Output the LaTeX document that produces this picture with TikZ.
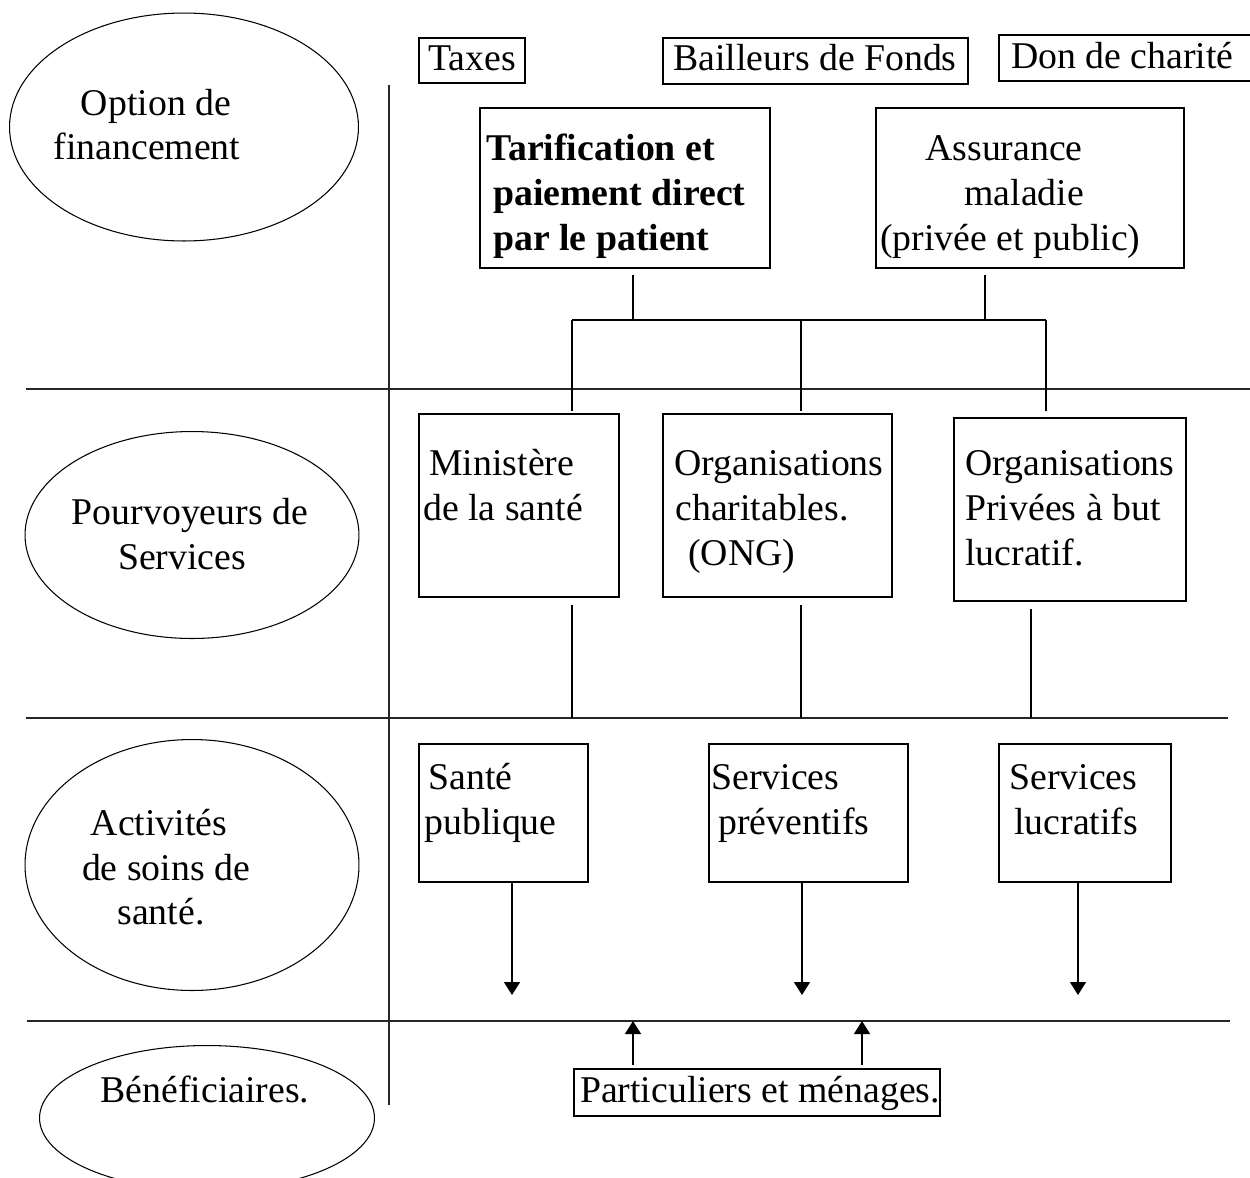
\documentclass[tikz,border=0pt]{standalone}
\usepackage{fontspec}
\setmainfont{Liberation Serif}
\usetikzlibrary{arrows.meta,shapes.geometric}
\newcommand{\dfont}{\fontsize{21.5pt}{25.5pt}\selectfont}
\begin{document}
\begin{tikzpicture}[x=0.02cm,y=-0.02cm,
  box/.style={draw, rectangle, line width=0.9pt, inner sep=0pt},
  oval/.style={draw, ellipse, line width=0.6pt, inner sep=0pt},
  txt/.style={inner sep=0pt, anchor=base west, font=\dfont},
  ctxt/.style={inner sep=0pt, anchor=base, font=\dfont},
  conn/.style={line width=0.8pt},
  arr/.style={line width=0.8pt, -{Triangle[width=0.32cm,length=0.26cm]}},
  divider/.style={line width=0.7pt, black!85}]
\useasboundingbox (0,0) rectangle (1250,1177);
\fill[white] (0,0) rectangle (1250,1177);
\clip (0,0) rectangle (1250,1177);

% ---- dividers
\draw[divider] (389,85) -- (389,1105);
\draw[divider] (26,389) -- (1250,389);
\draw[divider] (26,718) -- (1228,718);
\draw[divider] (27,1021) -- (1230,1021);

% ---- row labels (ellipses)
\node[oval, minimum width=6.98cm, minimum height=4.56cm] (e1) at (184,127) {};
\node[ctxt] (e1a) at (156,115) {Option de};
\node[ctxt] (e1b) at (147,159) {financement};

\node[oval, minimum width=6.68cm, minimum height=4.14cm] (e2) at (192,535) {};
\node[ctxt] (e2a) at (190,524) {Pourvoyeurs de};
\node[ctxt] (e2b) at (182,569) {Services};

\node[oval, minimum width=6.68cm, minimum height=5.02cm] (e3) at (192,865) {};
\node[ctxt] (e3a) at (159,835) {Activités};
\node[ctxt] (e3b) at (166,880) {de soins de};
\node[ctxt] (e3c) at (161,924) {santé.};

\node[oval, minimum width=6.7cm, minimum height=2.9cm] (e4) at (207,1118) {};
\node[ctxt] (e4a) at (205,1102) {Bénéficiaires.};

% ---- funding sources
\node[box, minimum width=2.12cm, minimum height=0.90cm] (taxes) at (472,60.5) {};
\node[ctxt] (taxest) at (472,70) {Taxes};
\node[box, minimum width=6.10cm, minimum height=0.92cm] (bailleurs) at (815.5,61) {};
\node[ctxt] (bailleurst) at (815,70) {Bailleurs de Fonds};
\node[box, minimum width=5.26cm, minimum height=0.92cm] (don) at (1130.5,58) {};
\node[txt] (dont) at (1011,68) {Don de charité};

% ---- financing options
\node[box, minimum width=5.80cm, minimum height=3.20cm] (tarif) at (625,188) {};
\node[txt, font=\dfont\bfseries] (tarif1) at (486,160) {Tarification et};
\node[txt, font=\dfont\bfseries] (tarif2) at (493,205) {paiement direct};
\node[txt, font=\dfont\bfseries] (tarif3) at (493,250) {par le patient};

\node[box, minimum width=6.16cm, minimum height=3.20cm] (assur) at (1030,188) {};
\node[txt] (assur1) at (925,160) {Assurance};
\node[txt] (assur2) at (964,205) {maladie};
\node[txt] (assur3) at (880,250) {(privée et public)};

% ---- providers
\node[box, minimum width=4.00cm, minimum height=3.66cm] (minis) at (519,505.5) {};
\node[txt] (minis1) at (429,475) {Ministère};
\node[txt] (minis2) at (423,520) {de la santé};

\node[box, minimum width=4.58cm, minimum height=3.66cm] (ong) at (777.5,505.5) {};
\node[txt] (ong1) at (674,475) {Organisations};
\node[txt] (ong2) at (675,520) {charitables.};
\node[txt] (ong3) at (688,565) {(ONG)};

\node[box, minimum width=4.64cm, minimum height=3.66cm] (priv) at (1070,509.5) {};
\node[txt] (priv1) at (965,475) {Organisations};
\node[txt] (priv2) at (965,520) {Privées à but};
\node[txt] (priv3) at (965,565) {lucratif.};

% ---- activities
\node[box, minimum width=3.38cm, minimum height=2.76cm] (sante) at (503.5,813) {};
\node[txt] (sante1) at (428,789) {Santé};
\node[txt] (sante2) at (424,834) {publique};

\node[box, minimum width=3.98cm, minimum height=2.76cm] (prev) at (808.5,813) {};
\node[txt] (prev1) at (711,789) {Services};
\node[txt] (prev2) at (718,834) {préventifs};

\node[box, minimum width=3.44cm, minimum height=2.76cm] (lucr) at (1085,813) {};
\node[txt] (lucr1) at (1009,789) {Services};
\node[txt] (lucr2) at (1014,834) {lucratifs};

% ---- beneficiaries
\node[box, minimum width=7.32cm, minimum height=0.94cm] (partic) at (757,1092.5) {};
\node[ctxt] (partict) at (760,1102) {Particuliers et ménages.};

% ---- connector coordinates
\coordinate (bj1) at (633,320);
\coordinate (bj2) at (985,320);
\coordinate (busL) at (572,320);
\coordinate (busM) at (801,320);
\coordinate (busR) at (1046,320);
\coordinate (d1) at (572,718);
\coordinate (d2) at (801,718);
\coordinate (d3) at (1031,718);
\coordinate (a1) at (512,995);
\coordinate (a2) at (802,995);
\coordinate (a3) at (1078,995);
\coordinate (u1) at (633,1021);
\coordinate (u2) at (862,1021);

% ---- connectors
\draw[conn, shorten <=0.12cm] (tarif.south -| bj1) -- (bj1);
\draw[conn, shorten <=0.12cm] (assur.south -| bj2) -- (bj2);
\draw[conn] (busL) -- (busR);
\draw[conn, shorten >=0.04cm] (busL) -- (minis.north -| busL);
\draw[conn, shorten >=0.04cm] (busM) -- (ong.north -| busM);
\draw[conn, shorten >=0.12cm] (busR) -- (priv.north -| busR);
\draw[conn, shorten <=0.14cm] (minis.south -| d1) -- (d1);
\draw[conn, shorten <=0.14cm] (ong.south -| d2) -- (d2);
\draw[conn, shorten <=0.14cm] (priv.south -| d3) -- (d3);
\draw[arr] (sante.south -| a1) -- (a1);
\draw[arr] (prev.south -| a2) -- (a2);
\draw[arr] (lucr.south -| a3) -- (a3);
\draw[arr, shorten <=0.06cm] (partic.north -| u1) -- (u1);
\draw[arr, shorten <=0.06cm] (partic.north -| u2) -- (u2);
\end{tikzpicture}
\end{document}
